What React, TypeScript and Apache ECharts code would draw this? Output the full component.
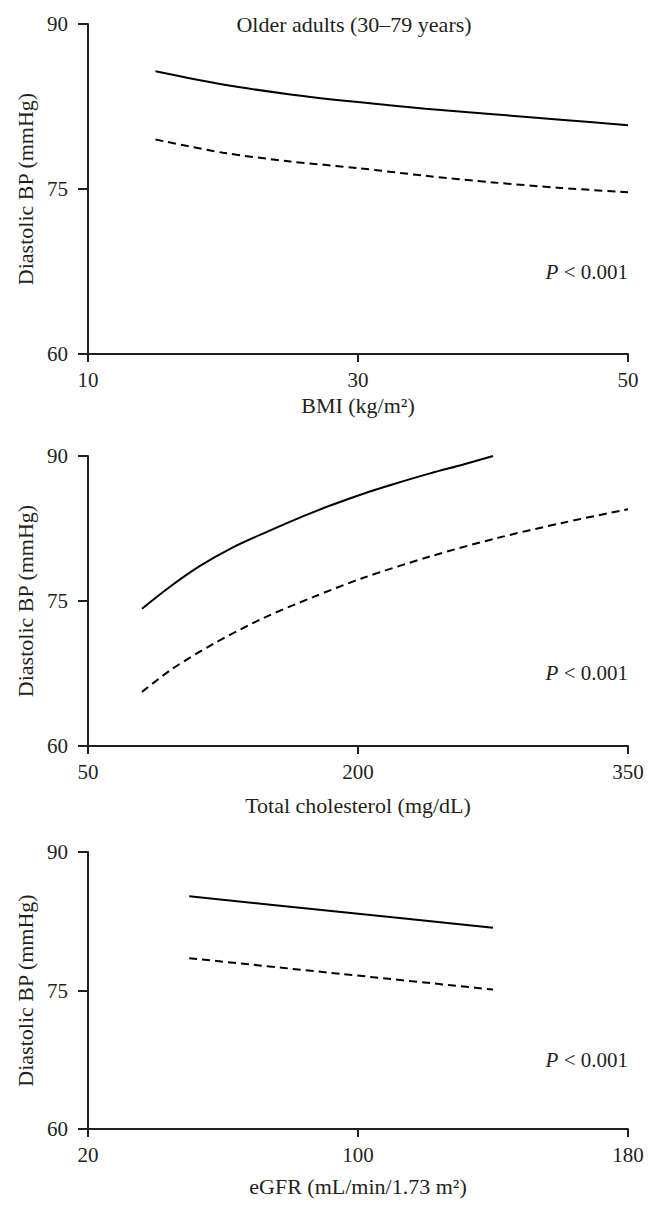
import React, { useEffect, useRef } from "react";
import * as echarts from "echarts";

const FONT = "'Liberation Serif', 'Times New Roman', serif";
const INK = "#231f20";

// Tick labels
const yTicks = [60, 75, 90];
const bmiTicks = [10, 30, 50];
const cholTicks = [50, 200, 350];
const egfrTicks = [20, 100, 180];

// Panel 1: BMI
const bmiX = [15, 20, 25, 30, 35, 40, 45, 50];
const bmiSolid = [85.7, 84.5, 83.6, 82.9, 82.3, 81.8, 81.3, 80.8];
const bmiDashed = [79.5, 78.3, 77.5, 76.9, 76.2, 75.6, 75.1, 74.7];

// Panel 2: Total cholesterol
const cholSolidX = [80, 95, 112, 130, 150, 170, 185, 203, 220, 240, 258, 275];
const cholSolid = [74.2, 76.4, 78.6, 80.5, 82.2, 83.8, 84.9, 86.1, 87.1, 88.2, 89.1, 90.0];
const cholDashedX = [80, 97, 120, 147, 175, 203, 240, 277, 314, 350];
const cholDashed = [65.6, 68.0, 70.6, 73.2, 75.4, 77.4, 79.6, 81.5, 83.1, 84.5];

// Panel 3: eGFR
const egfrX = [50, 95, 140];
const egfrSolid = [85.2, 83.5, 81.8];
const egfrDashed = [78.5, 76.8, 75.1];

const panelTitle = "Older adults (30–79 years)";
const yName = "Diastolic BP (mmHg)";
const xNames = ["BMI (kg/m²)", "Total cholesterol (mg/dL)", "eGFR (mL/min/1.73 m²)"];
const pLabel = "{i|P} < 0.001";

const zip = (xs: number[], ys: number[]) => xs.map((x, i) => [x, ys[i]]);

const tickText = { fontFamily: FONT, fontSize: 21, color: INK };
const nameText = { fontFamily: FONT, fontSize: 22, color: INK };

function makeX(i: number, min: number, max: number, ticks: number[], name: string, nameGap: number) {
  return {
    gridIndex: i,
    type: "value",
    min,
    max,
    axisLine: { show: true, onZero: false, lineStyle: { color: INK, width: 2 } },
    axisTick: { show: true, customValues: ticks, length: 8, lineStyle: { color: INK, width: 2 } },
    axisLabel: { customValues: ticks, margin: 15, ...tickText },
    splitLine: { show: false },
    name,
    nameLocation: "middle",
    nameGap,
    nameTextStyle: nameText,
  };
}

function makeY(i: number) {
  return {
    gridIndex: i,
    type: "value",
    min: 60,
    max: 90,
    interval: 15,
    axisLine: { show: true, onZero: false, lineStyle: { color: INK, width: 2 } },
    axisTick: { show: true, length: 10, lineStyle: { color: INK, width: 2 } },
    axisLabel: { margin: 20, ...tickText },
    splitLine: { show: false },
    name: yName,
    nameLocation: "middle",
    nameGap: 50,
    nameTextStyle: nameText,
  };
}

function line(i: number, data: number[][], dashed: boolean) {
  return {
    type: "line",
    xAxisIndex: i,
    yAxisIndex: i,
    data,
    smooth: 0.3,
    showSymbol: false,
    symbol: "none",
    lineStyle: { color: "#000", width: 2, type: dashed ? [8, 5] : "solid" },
  };
}

function pText(y: number) {
  return {
    type: "text",
    x: 628,
    y,
    style: {
      text: pLabel,
      fontFamily: FONT,
      fontSize: 21,
      fill: INK,
      align: "right",
      verticalAlign: "middle",
      rich: { i: { fontStyle: "italic", fontFamily: FONT, fontSize: 21, fill: INK } },
    },
  };
}

export default function App() {
  const ref = useRef<HTMLDivElement>(null);
  useEffect(() => {
    if (!ref.current) return;
    const chart = echarts.init(ref.current, undefined, { renderer: "svg" });
    chart.setOption({
      animation: false,
      backgroundColor: "#fff",
      grid: [
        { left: 88, width: 540, top: 24, height: 330 },
        { left: 88, width: 540, top: 456, height: 290 },
        { left: 88, width: 540, top: 852, height: 277 },
      ],
      xAxis: [
        makeX(0, 10, 50, bmiTicks, xNames[0], 40),
        makeX(1, 50, 350, cholTicks, xNames[1], 48),
        makeX(2, 20, 180, egfrTicks, xNames[2], 46),
      ],
      yAxis: [makeY(0), makeY(1), makeY(2)],
      series: [
        line(0, zip(bmiX, bmiSolid), false),
        line(0, zip(bmiX, bmiDashed), true),
        line(1, zip(cholSolidX, cholSolid), false),
        line(1, zip(cholDashedX, cholDashed), true),
        line(2, zip(egfrX, egfrSolid), false),
        line(2, zip(egfrX, egfrDashed), true),
      ],
      graphic: [
        {
          type: "text",
          x: 354,
          y: 24,
          style: {
            text: panelTitle,
            fontFamily: FONT,
            fontSize: 22,
            fill: INK,
            align: "center",
            verticalAlign: "middle",
          },
        },
        pText(272),
        pText(673),
        pText(1060),
      ],
    });
    return () => chart.dispose();
  }, []);
  return (
    <div
      ref={ref}
      style={{ position: "fixed", left: 0, top: 0, width: 657, height: 1211, background: "#fff" }}
    />
  );
}
